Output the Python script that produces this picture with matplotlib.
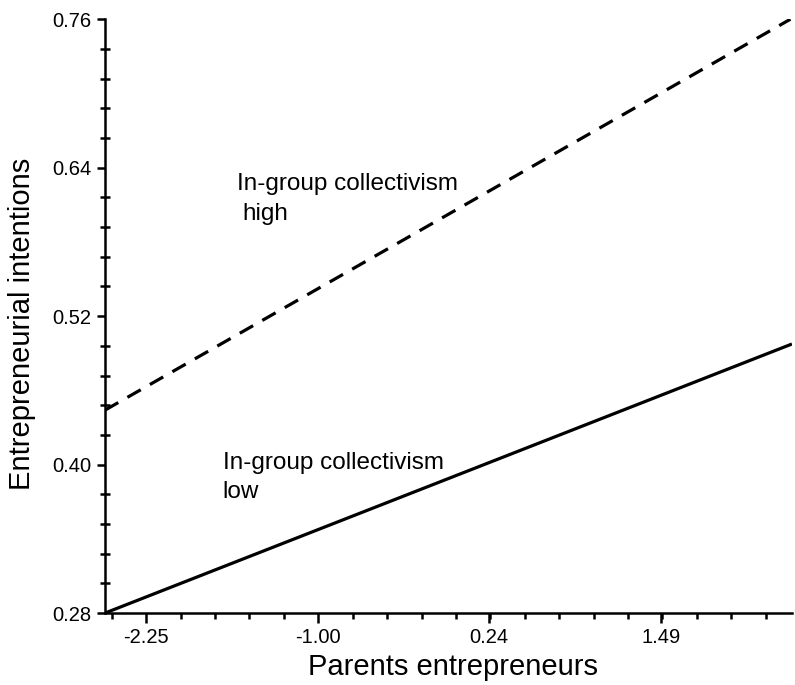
import numpy as np
import matplotlib.pyplot as plt
from matplotlib.ticker import FixedLocator

plt.rcParams['font.family'] = ['Liberation Sans', 'DejaVu Sans']

# Data
x_ends = [-2.55, 2.43]
high_y = [0.444, 0.760]
low_y = [0.280, 0.497]
x_ticks = [-2.25, -1.00, 0.24, 1.49]
y_ticks = [0.28, 0.40, 0.52, 0.64, 0.76]

fig = plt.figure(figsize=(7.95, 6.85), dpi=100)
ax = fig.add_axes([0.132, 0.105, 0.864, 0.867])

ax.plot(x_ends, high_y, color='black', linewidth=2.3, linestyle=(0, (4.8, 3.3)))
ax.plot(x_ends, low_y, color='black', linewidth=2.3)

# labels for the two lines
ax.text(-1.593, 0.6218, 'In-group collectivism', fontsize=17.5, va='baseline')
ax.text(-1.55, 0.5978, 'high', fontsize=17.5, va='baseline')
ax.text(-1.695, 0.3964, 'In-group collectivism', fontsize=17.5, va='baseline')
ax.text(-1.695, 0.3729, 'low', fontsize=17.5, va='baseline')

ax.set_xlim(-2.55, 2.44)
ax.set_ylim(0.28, 0.76)

for s in ['top', 'right']:
    ax.spines[s].set_visible(False)
for s in ['left', 'bottom']:
    ax.spines[s].set_linewidth(1.8)

ax.xaxis.set_major_locator(FixedLocator(x_ticks))
ax.set_xticklabels(['%.2f' % v for v in x_ticks])
ax.xaxis.set_minor_locator(FixedLocator(np.arange(-2.50, 2.43, 0.25)))
ax.yaxis.set_major_locator(FixedLocator(y_ticks))
ax.set_yticklabels(['%.2f' % v for v in y_ticks])
ax.yaxis.set_minor_locator(FixedLocator(np.arange(0.28, 0.761, 0.024)))

ax.tick_params(axis='x', which='major', direction='out', length=7.5, width=1.8, labelsize=14.5, pad=3)
ax.tick_params(axis='y', which='major', direction='out', length=6, width=1.8, labelsize=14.5, pad=4)
ax.tick_params(axis='x', which='minor', direction='out', length=4.5, width=1.8)
ax.tick_params(axis='y', which='minor', direction='inout', length=6.5, width=1.8)

ax.set_xlabel('Parents entrepreneurs', fontsize=21)
ax.set_ylabel('Entrepreneurial intentions', fontsize=21)
ax.xaxis.set_label_coords(0.506, -0.068)
ax.yaxis.set_label_coords(-0.100, 0.487)

fig.savefig('out.png')
